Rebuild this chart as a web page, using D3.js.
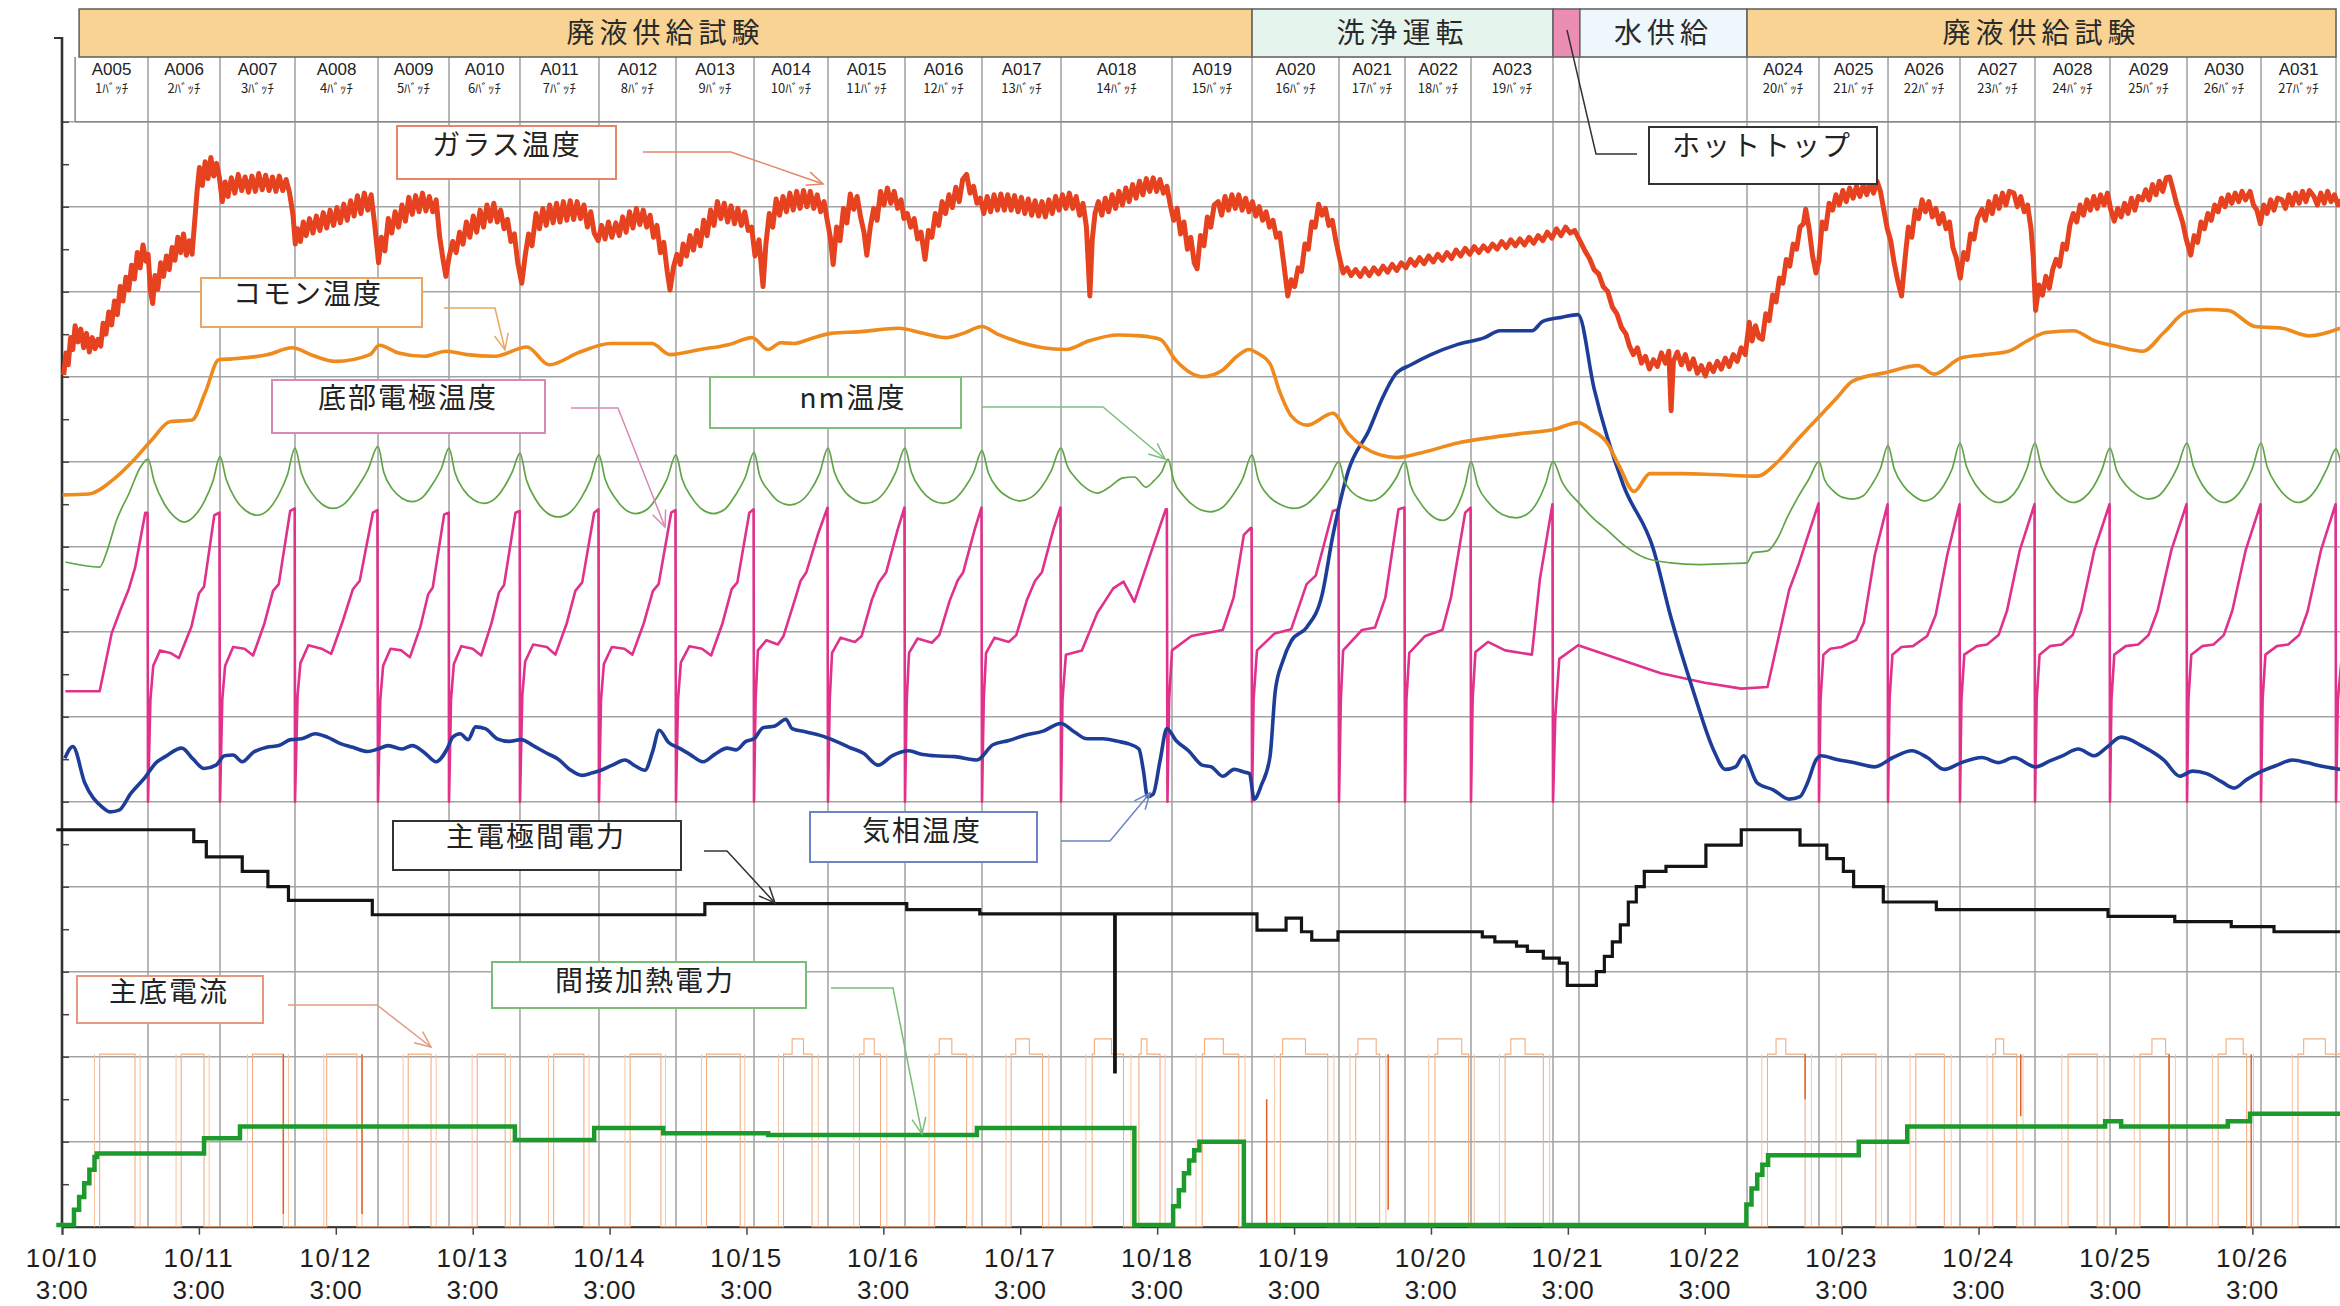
<!DOCTYPE html>
<html>
<head>
<meta charset="utf-8">
<script src="https://cdn.jsdelivr.net/npm/d3@7"></script>
<style>
html,body{margin:0;padding:0;background:#fff;overflow:hidden}
svg{display:block}
</style>
</head>
<body>
<svg id="chart" width="2340" height="1306"></svg>
<script>
// ---------- time axis (hours after 10/10 3:00) ----------
const dateLabels = ["10/10","10/11","10/12","10/13","10/14","10/15","10/16","10/17","10/18",
                    "10/19","10/20","10/21","10/22","10/23","10/24","10/25","10/26"];
const timeLabel = "3:00";

// ---------- operating phases (header band) ----------
const phaseLabels = ["廃液供給試験","洗浄運転","","水供給","廃液供給試験"];
const phaseEdges  = [3.0, 208.63, 261.4, 266.1, 295.41, 398.67];

// ---------- batch table ----------
const batchEdges = [2.3, 15.08, 27.7, 40.85, 55.4, 67.85, 80.29, 94.14, 107.64, 121.32, 134.29,
                    147.79, 161.29, 175.14, 194.6, 208.63, 223.88, 235.45, 247.02, 261.4, 265.95,
                    295.41, 308.03, 320.13, 332.75, 345.9, 359.05, 372.55, 385.52, 398.67];
const batchIds = ["A005","A006","A007","A008","A009","A010","A011","A012","A013","A014","A015",
                  "A016","A017","A018","A019","A020","A021","A022","A023","","",
                  "A024","A025","A026","A027","A028","A029","A030","A031"];
const batchNos = ["1","2","3","4","5","6","7","8","9","10","11","12","13","14","15","16","17","18","19","","",
                  "20","21","22","23","24","25","26","27"];

// ---------- series: [hour, value] ----------
const glassTemp = [
[0.3,100.2],[0.7,102.8],[1.1,101.4],[1.5,104.6],[1.9,103.2],[2.3,106],[2.8,104.1],[3.3,105.6],[3.8,103.4],[4.3,105.1],[4.8,102.9],[5.3,104.6],[5.8,103.3],[6.3,104.4],[6.8,103.6],[7.2,106.3],[7.7,105],[8.2,107.6],[8.7,106.1],[9.2,108.9],[9.7,107.3],[10.2,110.6],[10.7,108.9],[11.2,111.7],[11.7,110.2],[12.2,113.1],[12.7,111.5],[13.2,114.6],[13.7,112.8],[14.2,115.5],[14.7,113.6],[15.1,114.4],[15.5,110.2],[15.9,108.6],[16.3,111.9],[16.8,110.3],[17.3,113.4],[17.8,111.8],[18.3,114.2],[18.8,112.6],[19.3,115.2],[19.8,113.7],[20.3,116.4],[20.8,114.6],[21.3,116.8],[21.8,114.3],[22.3,116],[22.8,114.4],[23.3,118.6],[23.7,122],[24.1,124.6],[24.6,122.5],[25.1,125.3],[25.6,123.3],[26.1,125.8],[26.6,123.6],[27.1,125.1],[27.6,123.4],
[28.1,120.6],[28.6,122.9],[29.1,121.2],[29.7,123.4],[30.3,121.6],[30.9,123.8],[31.5,121.9],[32.1,123.5],[32.7,121.7],[33.3,123.6],[33.9,121.8],[34.5,123.9],[35.1,122],[35.7,123.7],[36.3,121.9],[36.9,123.5],[37.5,121.8],[38.1,123.6],[38.7,121.9],[39.3,123.2],[39.9,121.6],[40.5,119],[40.9,115.6],
[41.3,117.4],[41.8,115.9],[42.3,118.2],[42.8,116.6],[43.4,118.6],[44,116.9],[44.6,118.9],[45.2,117.2],[45.8,119.3],[46.4,117.5],[47,119.6],[47.6,117.8],[48.2,119.9],[48.8,118.1],[49.4,120.3],[50,118.4],[50.6,120.7],[51.2,118.9],[51.8,121.3],[52.4,119.2],[53,121.6],[53.6,119.6],[54.2,121.4],[54.8,118],[55.5,113.4],
[56,116.4],[56.6,114.8],[57.2,118.6],[57.8,116.9],[58.4,119.4],[59,117.6],[59.6,120.2],[60.2,118.3],[60.8,121.1],[61.4,119.1],[62,121.3],[62.6,119.4],[63.2,121.6],[63.8,119.5],[64.4,121.2],[65,119.4],[65.6,120.8],[66.2,116.5],[66.8,113.8],[67.3,111.8],
[67.9,114.2],[68.5,115.9],[69.1,114.6],[69.7,117],[70.3,115.6],[70.9,118.2],[71.5,116.4],[72.1,118.9],[72.7,117],[73.3,119.6],[73.9,117.6],[74.5,120.2],[75.1,118.3],[75.7,120.4],[76.3,118.2],[76.9,119.6],[77.5,117.4],[78.1,118.5],[78.7,115.9],[79.3,116.8],[79.9,113.4],[80.6,111],
[81.2,114.2],[81.8,116.8],[82.4,115.4],[83.1,119.2],[83.7,117.4],[84.3,119.8],[84.9,117.8],[85.5,120.2],[86.1,118.1],[86.7,120.4],[87.3,118.2],[87.9,120.6],[88.5,118.4],[89.1,120.7],[89.7,118.5],[90.3,120.6],[90.9,118.6],[91.5,120.2],[92.1,117.6],[92.7,119.4],[93.3,116.9],[94,116],
[94.6,117.8],[95.2,116.2],[95.8,118.2],[96.4,116.4],[97.1,118.1],[97.7,116.6],[98.3,118.8],[98.9,117],[99.5,119.4],[100.1,117.5],[100.7,119.8],[101.3,117.9],[101.9,119.6],[102.5,117.6],[103.1,119],[103.7,116.4],[104.3,117.8],[104.9,114.6],[105.5,115.8],[106.1,112.4],[106.6,110.2],
[107.2,112.9],[107.8,114.4],[108.4,113.2],[108.9,115.6],[109.5,114.2],[110.1,116.6],[110.7,114.9],[111.3,117.2],[111.9,115.4],[112.5,118.4],[113.1,116.6],[113.7,119.6],[114.3,117.8],[114.9,120.6],[115.5,118.6],[116.1,120.4],[116.7,118.2],[117.3,120.1],[117.9,118],[118.5,119.8],[119.1,117.8],[119.7,119.4],[120.3,117.2],[120.9,117.6],
[121.5,114.2],[122.2,116.1],[122.9,110.6],[123.4,115.6],[124,119.2],[124.6,117.6],[125.2,120.9],[125.8,119],[126.4,121.2],[127,119.4],[127.6,121.6],[128.2,119.6],[128.8,121.8],[129.4,119.8],[130,121.9],[130.6,120],[131.2,121.8],[131.8,119.8],[132.4,121.4],[133,119.4],[133.6,120.6],[134.1,118.6],
[134.7,116.4],[135.2,113.2],[135.8,117.6],[136.4,116],[137,119.8],[137.6,118.1],[138.2,121.5],[138.8,119.7],[139.4,121.2],[140,118.8],[140.6,117],[141.1,114.3],[141.7,117.6],[142.3,119.8],[142.9,118.4],[143.5,121.8],[144.1,120.2],[144.7,122.2],[145.3,120.4],[145.9,121.8],[146.5,119.8],[147.1,120.8],[147.6,118.6],
[148.2,119.2],[148.8,117.6],[149.4,118.6],[150,116.2],[150.6,117],[151.3,113.8],[151.9,117.2],[152.5,116.4],[153.1,119.2],[153.7,117.8],[154.3,120.6],[154.9,119.2],[155.5,121.4],[156.1,119.9],[156.7,122.3],[157.3,120.6],[157.9,123.2],[158.6,123.8],[159.2,121.6],[159.8,122.4],[160.4,120.4],[161,121],
[161.6,119.2],[162.2,121.2],[162.8,119.4],[163.4,121.4],[164,119.6],[164.6,121.5],[165.2,119.6],[165.8,121.4],[166.4,119.6],[167,121.3],[167.6,119.4],[168.2,121.1],[168.8,119.2],[169.4,120.9],[170,119],[170.6,120.7],[171.2,118.9],[171.8,120.6],[172.4,118.8],[173,120.8],[173.6,119.2],[174.2,121.2],[174.8,119.6],[175.4,121.4],
[176,119.8],[176.6,121.6],[177.2,119.8],[177.8,121.2],[178.4,119],[179,120.4],[179.6,117.6],[180.2,109.5],[180.6,116],[181.1,119.2],[181.7,120.6],[182.3,119],[182.9,121],[183.5,119.4],[184.1,121.4],[184.7,119.8],[185.3,121.8],[185.9,120.2],[186.5,122.2],[187.1,120.6],[187.7,122.6],[188.3,121],[188.9,123],[189.5,121.4],[190.1,123.3],[190.7,121.8],[191.3,123.4],[191.9,121.8],[192.5,123.2],[193.1,121.6],[193.7,122.4],[194.3,120.2],
[194.9,118.4],[195.5,119.8],[196.1,116.8],[196.7,118.2],[197.3,115],[197.9,116.4],[198.5,113.4],[199,112.7],[199.6,116.6],[200.2,115.4],[200.8,118.8],[201.4,117.6],[202,120.2],[202.7,120.6],[203.3,119],[203.9,121.2],[204.5,119.6],[205.1,121.4],[205.7,119.8],[206.3,121.4],[206.9,119.6],[207.5,121],[208.1,119.4],[208.7,120.6],
[209.3,118.9],[209.9,120],[210.5,118.4],[211.1,119.4],[211.7,117.6],[212.3,118.4],[212.9,116.4],[213.5,116.9],[214.1,113.8],[214.9,109.5],[215.5,111.4],[216.1,110.6],[216.7,112.8],[217.3,112.4],[217.9,115.6],[218.5,115],[219.1,118.2],[219.7,117.6],[220.3,120.3],[220.9,119],[221.5,119.8],[222.1,117.8],[222.7,118.4],[223.3,116.1],
[223.9,114.2],[224.6,112.2],[225.3,112.8],[226,111.9],[226.8,112.6],[227.6,111.8],[228.4,112.7],[229.2,111.9],[230,112.8],[230.8,112.1],[231.6,113],[232.4,112.3],[233.2,113.2],[234,112.5],[234.8,113.4],[235.6,112.8],[236.4,113.8],[237.2,113.1],[238,114],[238.8,113.3],[239.6,114.2],[240.4,113.5],[241.2,114.4],[242,113.7],[242.8,114.6],[243.6,113.9],[244.4,114.9],[245.2,114.2],[246,115.1],[246.8,114.4],[247.6,115.3],[248.4,114.6],[249.2,115.4],[250,114.8],[250.8,115.6],[251.6,115],[252.4,115.9],[253.2,115.2],[254,116.1],[254.8,115.4],[255.6,116.2],[256.4,115.5],[257.2,116.4],[258,115.7],[258.8,116.6],[259.6,116],[260.4,117],[261.2,116.3],[262,117.4],[262.8,116.6],[263.6,117.6],[264.4,116.9],[265.2,117.2],
[266.1,116],[267,114.8],[267.8,113.9],[268.6,112.6],[269.4,112.1],[270.2,110.6],[271,110],[271.8,108.2],[272.6,107.4],[273.4,105.8],[274.2,105],[274.8,103.6],[275.5,102.6],[276.2,103.4],[276.9,101.6],[277.6,102.4],[278.3,100.9],[279,102],[279.7,101.2],[280.4,102.8],[281.1,101.6],[281.7,103],[282.1,96],[282.5,101.8],[283.2,102.9],[283.9,101.4],[284.6,102.6],[285.3,100.9],[286,102.1],[286.7,100.4],[287.4,101.3],[288.1,100.1],[288.8,101.5],[289.5,100.6],[290.2,101.8],[290.9,100.9],[291.6,102.2],[292.3,101.2],[293,102.6],[293.7,101.8],[294.4,103.4],[295.1,102.6],[295.8,106.4],[296.3,104.2],[296.9,106],[297.5,104.6],[298.1,104.4],[298.7,107.4],[299.3,106.6],[299.9,109.6],[300.5,108.8],[301.1,111.6],[301.7,111],[302.3,113.8],[302.9,113],[303.5,115.6],[304.1,115],[304.7,117.6],[305.3,118],[305.7,119.7],[306.3,117.4],[306.9,114.2],[307.5,112.2],[308,113.6],
[308.6,118.2],[309.2,117.4],[309.8,120.4],[310.4,119.6],[311,121.4],[311.6,120.2],[312.2,121.9],[312.8,120.6],[313.4,122.2],[314,121],[314.6,122.4],[315.2,121.2],[315.8,122.6],[316.4,121.4],[317,122.8],[317.6,121.6],[318.2,123],[318.8,121.8],[319.4,119.6],[320,117.4],[320.6,116],
[321.2,113.4],[321.8,111.4],[322.5,109.5],[323.1,113.8],[323.7,117.6],[324.3,116.4],[324.9,119.6],[325.5,118.6],[326.1,120.8],[326.7,119.4],[327.3,120.6],[327.9,118.8],[328.5,119.8],[329.1,118],[329.7,119.2],[330.3,117.4],[330.9,118.2],[331.5,115.2],[332.1,114],[332.8,111.6],
[333.4,114.6],[334,113.8],[334.6,116.8],[335.2,116.2],[335.8,118.6],[336.6,119.7],[337.2,118.4],[337.8,120.6],[338.4,119.2],[339,121.2],[339.6,119.8],[340.2,121.6],[340.8,120.2],[341.4,121.8],[342.2,121.6],[342.8,120],[343.4,121.2],[344,119.4],[344.6,120.2],[345.2,117.4],[345.6,114],[346,107.8],
[346.6,110.8],[347.2,109.6],[347.8,111.8],[348.4,110.4],[349,112.6],[349.6,113.8],[350.2,113],[350.8,115.6],[351.4,115],[352,117.8],[352.6,119.2],[353.2,118.2],[353.8,120.2],[354.4,119],[355,120.8],[355.6,119.6],[356.2,121.2],[356.8,119.8],[357.4,121.4],[358,120.2],[358.6,121.6],[359.2,119.6],
[359.8,118.3],[360.4,119.8],[361,118.8],[361.6,120.4],[362.2,119.2],[362.8,121],[363.4,119.6],[364,121.2],[364.7,120.8],[365.3,122],[365.9,120.8],[366.5,122.6],[367.1,121.4],[367.7,123],[368.3,121.8],[368.9,123.4],[369.5,123.5],[370.1,122],[370.7,120.4],[371.3,119.2],[371.8,118.1],[372.4,116.2],[373.2,114.3],
[373.8,116.6],[374.4,115.8],[375,118.2],[375.6,117.4],[376.2,119.2],[376.8,118.4],[377.4,120.2],[378,119.4],[378.6,121],[379.2,120],[379.8,121.4],[380.4,120.4],[381,121.6],[381.6,120.6],[382.2,121.8],[382.8,120.8],[383.6,121.8],[384.2,120.2],[384.8,119.6],[385.4,118],
[386,120.2],[386.6,119.2],[387.2,120.8],[387.8,119.6],[388.4,121],[389.2,120.8],[389.8,119.8],[390.4,121.4],[391,120.2],[391.6,121.6],[392.2,120.4],[392.8,121.8],[393.4,120.6],[394,121.9],[394.8,121.2],[395.4,120.2],[396,121.6],[396.6,120.4],[397.2,121.8],[397.8,120.6],[398.4,121.4],[399,120.2],[399.6,120.8]
];

const commonTemp = [
[0.1,86.1],[4.7,86.2],[8.8,87.8],[12.6,90.2],[15.8,92.6],[18.9,94.7],[22.8,94.9],[25.1,98.1],[27.5,102],[29.8,102.1],[36.1,102.6],[40.3,103.4],[44,102.5],[47.9,101.8],[54,102.6],[55.6,103.7],[59,102.8],[63.5,102.4],[67.3,103],[71,102.6],[75.9,102.4],[81.5,103.5],[85.4,101.4],[90.8,102.9],[96.2,103.9],[103.4,103.9],[106.6,102.6],[111.9,103.2],[117,103.8],[121,104.6],[123.8,103.2],[126,104],[128.3,103.9],[131,104.4],[134.8,105.1],[140,105.3],[146.7,105.7],[151,105.1],[155,104.6],[158,105.1],[161.3,105.9],[164,105],[168.7,103.9],[172,103.4],[176,103.2],[180,104.2],[185.1,104.9],[189,104.8],[192.5,104.4],[195.3,101.9],[199.9,100],[203.5,100.8],[206,102.4],[208.1,103.2],[209.5,102.8],[211.8,101.5],[213.5,98.2],[215.5,95.4],[218.3,94.3],[222.8,95.7],[225.5,93.3],[228,91.8],[231.1,90.8],[233.9,90.5],[238,91],[244.7,92.2],[250,92.8],[255.6,93.3],[261.6,93.8],[265.8,94.6],[268,93.8],[270.9,92.2],[273,89.5],[275.6,86.5],[278.4,88.6],[284,88.6],[289.6,88.5],[297.2,88.3],[300.8,90],[304,92.4],[307.5,94.9],[311,97.4],[314,99.5],[319.8,100.5],[325.4,101.3],[328.2,100.3],[332.9,102.2],[337,102.6],[341.3,103],[344.5,104.2],[347.8,105.2],[352.6,105.4],[356.4,104.2],[360,103.6],[364.8,103],[368.5,105.2],[372.4,107.6],[376,107.9],[379.7,107.8],[384.5,105.9],[389.2,105.7],[394,104.8],[399.4,105.7]
];

const nozzleTemp = [
[0.6,78.2],[6.6,77.6],[7.9,79.5],[9.5,83],[11.7,86.2],[13.8,89.4],[15.08,90.3],
[16.2,87.6],[17.8,85.2],[19.6,83.6],[21.4,82.9],[23.2,83.6],[25,85.4],[26.5,87.8],[27.7,90.6],
[28.8,87.9],[30.4,85.6],[32.3,84.2],[34.2,83.7],[36.1,84.3],[37.9,86],[39.5,88.4],[40.85,91.6],
[42,88.6],[43.8,86.3],[45.6,85],[47.5,84.5],[49.6,85.1],[51.6,86.8],[53.6,89],[55.4,91.8],
[56.4,88.8],[57.9,86.8],[59.6,85.7],[61.4,85.3],[63.2,85.8],[64.9,87.3],[66.5,89.2],[67.85,91.6],
[68.9,88.7],[70.4,86.7],[72.2,85.5],[74,85.1],[75.8,85.6],[77.5,87],[79,88.9],[80.29,91],
[81.4,87.9],[83.1,85.5],[85,84],[87,83.5],[89,84],[90.9,85.6],[92.6,87.8],[94.14,90.8],
[95.2,88],[96.9,85.8],[98.7,84.4],[100.6,83.9],[102.6,84.4],[104.4,85.9],[106.1,88],[107.64,90.8],
[108.7,88],[110.4,85.8],[112.2,84.4],[114.2,83.9],[116.2,84.4],[118,86],[119.8,88.2],[121.32,91.1],
[122.3,88.4],[124,86.5],[125.7,85.3],[127.6,84.9],[129.4,85.3],[131.2,86.6],[132.8,88.6],[134.29,91.6],
[135.4,88.8],[137,86.7],[139,85.5],[140.9,85.1],[142.8,85.5],[144.6,86.8],[146.2,88.8],[147.79,91.6],
[148.9,88.8],[150.6,86.7],[152.5,85.5],[154.5,85.1],[156.3,85.5],[158.1,86.8],[159.8,88.7],[161.29,91.3],
[162.4,88.7],[164.1,86.8],[166,85.8],[168,85.4],[169.9,85.8],[171.7,87],[173.4,88.9],[175.14,91.6],
[176.3,89.4],[177.8,88],[179.7,86.8],[181.5,86.3],[183.6,87],[186,88.1],[188,88.2],[190,87],[191.5,87.8],[192.8,88.8],[193.9,90.3],
[194.9,87.8],[196.6,86],[198.9,84.6],[201.3,84.1],[203.4,84.6],[205.2,86],[207,88],[208.63,90.8],
[209.7,88],[211.5,86],[213.8,84.9],[216,84.5],[218.2,85],[220.2,86.3],[222.1,88],[223.88,90],
[224.8,87.8],[226.2,86.4],[227.8,85.7],[229.5,85.4],[231.1,85.8],[232.6,86.8],[234,88.2],[235.45,90],
[236.4,87.3],[238,85.3],[240,83.7],[242,83.1],[243.5,83.6],[244.8,85],[246,87.2],[247.02,90],
[248.2,87.2],[250.1,85.2],[252.5,83.8],[255,83.4],[257,83.9],[258.7,85.3],[260.1,87.4],[261.4,90],
[263,87.6],[266,85.1],[268.5,83.3],[271,81.9],[274,80.1],[277.5,78.7],[282,78.1],[287,77.9],[292,78],[295.4,78.1],[296.5,79.3],[299,79.5],[300.8,81],[302.5,83.5],[304.5,86],[306.3,88],[308.03,90],
[309,87.9],[310.5,86.6],[312.2,85.8],[314,85.6],[315.8,86],[317.3,87.3],[318.8,89.2],[320.13,91.9],
[321.2,89.2],[322.8,87.2],[324.6,86],[326.5,85.4],[328.3,85.9],[329.9,87.2],[331.4,89.2],[332.75,92.2],
[333.9,89.4],[335.6,87.2],[337.5,85.8],[339.5,85.2],[341.4,85.7],[343,87],[344.5,89.2],[345.9,92.2],
[347,89.4],[348.7,87.2],[350.6,85.8],[352.6,85.2],[354.4,85.7],[356.1,87],[357.6,89],[359.05,91.6],
[360.2,89],[361.9,87.2],[363.8,86.1],[365.8,85.6],[367.6,86],[369.3,87.4],[370.9,89.4],[372.55,92.2],
[373.7,89.4],[375.3,87.2],[377.1,85.8],[379,85.2],[380.8,85.7],[382.4,87],[384,89.2],[385.52,92.2],
[386.6,89.4],[388.3,87.2],[390.1,85.8],[392,85.2],[393.8,85.7],[395.4,87],[397.1,89.2],[398.67,91.5],
[399.6,89.6]
];

const bottomElectrodeTemp = [
[0.6,63],[6.6,63],[8.7,69.8],[10.2,72.5],[11.7,75],[12.8,77.5],[14.6,84],[15.0,84],[15.08,50],
[15.5,62],[16,66],[17.2,67.8],[19,67.5],[20.5,66.9],[22.7,70.6],[24,74.5],[24.9,75.3],[26.7,83.7],[27.6,84],[27.7,50],
[28.1,62],[28.6,66],[30,68.2],[32,68],[33.5,67.2],[35.5,71],[37,74.8],[38,75.6],[40,84.2],[40.8,84.5],[40.85,50],
[41.3,62.5],[41.8,66.3],[43.2,68.4],[45.5,68],[47.2,67.4],[49.2,71.2],[51,75],[52.2,76],[54.5,84],[55.3,84.3],[55.4,50],
[55.8,62],[56.3,66],[57.6,68],[59.5,67.8],[61,67],[62.8,70.5],[64.2,74.4],[65,75.2],[67,83.8],[67.8,84],[67.85,50],
[68.2,62],[68.7,66.2],[70,68.3],[72,68],[73.5,67.2],[75.3,71],[76.6,74.6],[77.5,75.5],[79.5,84],[80.25,84.2],[80.29,50],
[80.7,62.5],[81.2,66.5],[82.6,68.5],[85,68.2],[86.5,67.3],[88.5,71],[90,74.8],[91.2,75.8],[93.3,84],[94.05,84.4],[94.14,50],
[94.5,62],[95,66.2],[96.4,68.2],[98.6,68],[100,67.3],[102,71],[103.6,74.8],[104.6,75.6],[106.8,84],[107.55,84.3],[107.64,50],
[108,62],[108.5,66.4],[110,68.3],[112.2,68],[113.8,67.2],[115.8,71],[117.4,75],[118.4,75.8],[120.5,84],[121.25,84.4],[121.32,50],
[121.6,62],[122,67.8],[123.5,69],[125.5,68.5],[126.5,69.5],[128.5,73.8],[129.5,76],[130.5,77],[132.5,81.4],[134.2,84.6],[134.29,50],
[134.6,62],[135,67.5],[136.5,69.3],[139,68.8],[140.2,69.5],[142,73.8],[143.2,75.8],[144.5,77],[146.5,82],[147.7,84.6],[147.79,50],
[148.1,62],[148.5,67.5],[150,69.2],[152.5,68.7],[153.8,69.6],[155.6,73.6],[157,76],[158,77],[160,82],[161.2,84.6],[161.29,50],
[161.6,62],[162,67.5],[163.5,69.3],[166,68.8],[167.3,69.6],[169.2,73.8],[170.6,76],[171.8,77],[173.8,82],[175.05,84.6],[175.14,50],
[175.4,62],[176,67.3],[178.8,67.8],[181.5,72.2],[184.3,75.1],[186.1,75.9],[188,73.5],[190.7,78.9],[193.5,84.4],[193.7,84.4],[193.8,50],
[194.1,62],[194.6,67.8],[198,69.5],[203.5,70.2],[205.4,74],[207.2,81.4],[208.4,82.2],[208.55,82.2],[208.63,50],
[208.9,62],[209.5,67.8],[212.6,69.8],[215.5,70.3],[218.2,75.6],[219.8,76.6],[222.8,84.2],[223.8,84.4],[223.88,50],
[224.2,62],[224.6,67.8],[227.9,70.2],[230.2,70.5],[232,74],[234.3,84.4],[235.35,84.6],[235.45,50],
[235.7,62],[236.2,67.5],[239,69.5],[242,70.2],[243.5,74],[246,84],[246.95,84.6],[247.02,50],
[247.3,62],[247.8,67.6],[250,68.8],[253,67.8],[257.7,67.3],[259.1,76.2],[261.3,85],[261.4,50],
[261.8,60],[262.5,66.8],[265.8,68.4],[272,67],[280.3,65.1],[288,64],[294.4,63.3],[299,63.5],[302.8,74.9],[304.5,78],[307.95,85.1],[308.03,50],
[308.3,62],[308.8,67.3],[310,68],[312,68.2],[314.5,69],[315.9,71.1],[317.8,79],[320.05,85],[320.13,50],
[320.4,62],[320.9,67.3],[322.5,68.2],[324.5,68.3],[327,69.5],[328.5,72],[330.5,79],[332.67,85],[332.75,50],
[333,62],[333.5,67.3],[335.7,68.3],[337.5,68.5],[339.5,69.6],[341,72.5],[343.2,79.5],[345.82,85],[345.9,50],
[346.2,62],[346.7,67.3],[348.5,68.3],[350.6,68.5],[352.5,69.6],[354,72.4],[356.3,79.6],[358.97,85],[359.05,50],
[359.3,62],[359.8,67.3],[361.8,68.3],[364,68.5],[365.8,69.6],[367.4,72.5],[369.8,79.6],[372.47,85],[372.55,50],
[372.8,62],[373.3,67.3],[375.2,68.3],[377.2,68.5],[379,69.6],[380.5,72.5],[382.8,79.5],[385.44,85],[385.52,50],
[385.8,62],[386.3,67.3],[388.3,68.3],[390.3,68.5],[392.2,69.6],[393.7,72.4],[396,79.5],[398.6,85],[398.67,50],
[399,62],[399.6,66.5]
];

const gasTemp = [
[0.5,55.1],[1.9,56.5],[4,52.2],[7,49.4],[8.5,48.8],[10,49],[12.1,51],[14.6,52.9],[16.5,54.6],[18.1,55.3],[21,56.3],[23,55],[24.9,53.9],[27,54.3],[28.5,55.4],[30,55.5],[31.6,54.7],[33.5,55.8],[35.9,56.4],[38,56.6],[40.1,57.3],[42,57.4],[44.4,58],[46.5,57.6],[48.6,56.9],[51,56.4],[53.6,55.9],[55.4,56.2],[57.2,56.6],[59.5,56.2],[61.4,56.6],[63.5,55.8],[65.6,54.7],[67.5,56.2],[68.5,57.6],[69.8,58],[71.2,57.3],[72.5,58.8],[74.2,58.6],[76.3,57.4],[78.4,57.1],[80.5,57.3],[82.6,56.6],[85,55.7],[87,55],[89,53.8],[91.2,53.1],[93,53.4],[94.5,53.7],[96.5,54.3],[98.7,54.9],[100.5,54.2],[102.2,53.7],[103.5,55.8],[104.7,58.4],[106.3,57],[108.2,56.3],[110,55.6],[112.4,54.7],[114.5,55.6],[116.6,56.3],[118.2,56.1],[119.9,57.1],[121.3,57.4],[122.9,58.7],[125,58.9],[126.9,59.7],[128,58.6],[130.5,58.2],[132.9,57.8],[135.7,57.1],[138,56.4],[140.5,55.7],[143.1,54.3],[145.5,55.4],[148.5,56],[150.5,55.6],[153,55.4],[156.5,55.3],[160.4,54.9],[163.2,56.7],[166,57.2],[168.7,57.8],[172,58.3],[175.1,59.2],[177.5,58.2],[179.7,57.4],[182.5,57.4],[185.1,57.1],[187,56.8],[188.8,56.2],[189.6,53.6],[190.3,50.6],[191.3,50.9],[192.5,54.8],[193.7,58.6],[195.3,57.2],[197.5,56],[199.9,54.3],[201.5,54.1],[203.5,53],[205.5,53.8],[207.2,53.5],[208.2,53.3],
[209,50.3],[210.3,52],[211.8,55.4],[212.7,63],[214,66.5],[215.5,68.9],[218.2,70.5],[220.9,74.3],[222.8,81.3],[225.5,88.9],[229.2,93.8],[231.5,97.5],[233.8,100.3],[236.5,101.4],[240,102.6],[244.7,103.8],[249.4,104.6],[252.1,105.4],[257.7,105.4],[259.6,106.5],[263,107],[265.8,107.3],[268.6,98.6],[273.7,87.3],[279,79.7],[282.1,71.6],[286,63],[289.6,56],[291.6,53.8],[293.4,54.1],[294.8,55.4],[297.2,52.2],[300,51.4],[302.8,50.3],[304.7,50.6],[306,52.2],[307.5,54.9],[308.4,55.4],[311,55],[314.1,54.6],[317.8,54.1],[321,55.2],[324.3,56],[327,55.2],[330,53.8],[333,54.6],[336.6,55.2],[339.5,54.6],[342.2,55.2],[346,54.1],[348.5,54.8],[350.7,55.4],[353.5,56.2],[356.3,55.4],[358.5,56.4],[361,57.6],[364.8,56.5],[368.5,54.9],[371.3,53],[373.5,53.6],[376,53.3],[378.5,52.4],[380.8,51.6],[383,52.6],[385.4,53.5],[388,54.2],[391.1,54.9],[393.5,54.6],[396.7,54.1],[399.4,53.8]
];

// step series: value holds until the next change
const mainPower = [
[-1,46.7],[23.1,45.3],[25.3,43.5],[31.6,41.8],[36.1,40],[39.7,38.4],[54.4,36.7],[112.7,38],[148.1,37.3],[160.9,36.8],[184.55,18.2],[184.65,36.8],[209.5,34.9],[214.6,36.3],[217.3,34.7],[219.1,33.7],[223.7,34.7],[249,34.1],[251.2,33.5],[255,33],[256.9,32.4],[259.7,31.6],[262.5,31],[263.9,28.4],[269,30],[270.4,31.8],[271.8,33.5],[273.2,35.5],[274.6,38.2],[276,40],[277.4,41.8],[281.2,42.4],[288.2,44.9],[294.4,46.7],[304.7,44.9],[309.4,43.3],[312.3,41.8],[314.1,40],[319.3,38.2],[328.6,37.3],[358.7,36.5],[370.4,35.9],[380.3,35.3],[387.8,34.7],[400,34.7]
];

const heaterPower = [
[-1,0.2],[1.6,0.2],[2.1,2],[3,3.5],[3.9,5.1],[4.8,6.7],[5.7,8.2],[6.1,8.6],[24.9,10.4],[31.2,11.8],[79.4,10.2],[93.3,11.6],[105.4,11],[123.8,10.8],[160.4,11.6],[188,0.2],[194.8,2.4],[195.8,4.3],[196.7,6.3],[197.6,7.8],[198.5,9],[199.4,10],[207.2,0.2],[295.3,2.6],[296.2,4.5],[297.2,6.1],[298.1,7.3],[299.1,8.4],[315,10],[323.5,11.8],[358.2,12.4],[361,11.8],[379.7,12.4],[383.6,13.3],[400,13.3]
];

// bottom current: [on, off, peak start, peak end]
const currentPulses = [
[6.6,12.8],[20.9,24.9],[33.4,38.8],[46.4,51.7],[60.7,64.7],[72.8,77.7],[86.2,91.5],[99.6,105],[113,118.9],
[126.5,131.5,128,130],[139.8,143.5,140.6,142.4],[153,158.6,153.8,156],[166.4,171.9,167.2,169.6],[180.6,186.1,181,184],[188.8,192.5,189.2,190.2],[199.9,206.3,200.3,203.6],[213.6,221.9,214,218],[226.8,231,227.2,230.4],[240.7,246.6,241.2,245.4],[253,259.7,254,256.5],
[299,305.6,300.5,302.2],[312,318],[325,330],[338.5,342.7,339,340.4],[351.7,356.8],[364.3,369.4,366.4,368.8],[378,383,379.4,382.4],[392,400,393,396.8]
];
const currentSpikes = [5.7,13.7,20,25.8,32.5,39.7,45.9,52.6,59.8,65.6,71.9,78.6,85.3,92.4,98.7,105.8,112.1,119.7,125.6,132.6,138.8,144.6,152,159.7,165.5,173,179.5,187.4,193.4,198.8,207.4,212.6,223,225.8,232.1,239.6,247.6,252,260.8,298,306.7,311,319,324,331.2,337.5,343.8,350.6,358,363.3,370.5,377,384.2,391];
const currentDips = [[38.8,1.5,20.3],[52.6,1.5,20.3],[211.2,0,15],[232.5,2,20.3],[305.6,15,20.3],[343.4,13,20.3],[369.4,0,20.3],[383.8,0,20.3]];
const currentLevel = 20.3, currentPeak = 22.1;

// ---------- scales ----------
const W = 2340, H = 1306;
const x = d3.scaleLinear().domain([0, 400]).range([62, 62 + 400 * 5.704]);
const y = d3.scaleLinear().domain([0, 130]).range([1226.7, 121.7]);
const HEAD_TOP = 9, HEAD_BOT = 57, ROW_BOT = y(130);
const CJK = "'Noto Sans CJK JP','Noto Sans CJK SC',sans-serif";

const svg = d3.select("#chart");

// ---------- grid ----------
const grid = svg.append("g");
grid.selectAll("line.h").data(d3.range(0, 131, 10)).join("line")
  .attr("x1", x(0)).attr("x2", W).attr("y1", d => y(d)).attr("y2", d => y(d))
  .attr("stroke", "#a3a3a3").attr("stroke-width", 1.6);
grid.selectAll("line.v").data(batchEdges.slice(1)).join("line")
  .attr("x1", d => x(d)).attr("x2", d => x(d)).attr("y1", HEAD_BOT).attr("y2", y(0))
  .attr("stroke", "#a0a0a0").attr("stroke-width", 1.5);
grid.append("line").attr("x1", x(batchEdges[0])).attr("x2", x(batchEdges[0]))
  .attr("y1", HEAD_BOT).attr("y2", ROW_BOT).attr("stroke", "#888").attr("stroke-width", 1.5);

// ---------- header band ----------
const phaseFill = ["#f8d393", "#e5f5ee", "#ec8db3", "#eef7fb", "#f8d393"];
const head = svg.append("g");
head.selectAll("rect").data(phaseLabels).join("rect")
  .attr("x", (d, i) => x(phaseEdges[i])).attr("y", HEAD_TOP)
  .attr("width", (d, i) => x(phaseEdges[i + 1]) - x(phaseEdges[i]))
  .attr("height", HEAD_BOT - HEAD_TOP)
  .attr("fill", (d, i) => phaseFill[i]).attr("stroke", "#666").attr("stroke-width", 1.6);
head.selectAll("text").data(phaseLabels).join("text")
  .attr("x", (d, i) => (x(phaseEdges[i]) + x(phaseEdges[i + 1])) / 2)
  .attr("y", 43).attr("text-anchor", "middle")
  .attr("font-family", CJK).attr("font-size", 28).attr("letter-spacing", 5)
  .attr("fill", "#2a2a2a").text(d => d);

// batch row bottom rule
svg.append("line").attr("x1", x(batchEdges[0])).attr("x2", x(batchEdges[batchEdges.length - 1]))
  .attr("y1", ROW_BOT).attr("y2", ROW_BOT).attr("stroke", "#888").attr("stroke-width", 1.6);

const rows = svg.append("g");
rows.selectAll("text.id").data(batchIds).join("text")
  .attr("x", (d, i) => (x(batchEdges[i]) + x(batchEdges[i + 1])) / 2)
  .attr("y", 75).attr("text-anchor", "middle")
  .attr("font-family", "'Liberation Sans',Arial,sans-serif").attr("font-size", 17)
  .attr("fill", "#222").text(d => d);
rows.selectAll("text.no").data(batchNos).join("text")
  .attr("x", (d, i) => (x(batchEdges[i]) + x(batchEdges[i + 1])) / 2)
  .attr("y", 93).attr("text-anchor", "middle")
  .attr("font-family", CJK).attr("font-size", 13)
  .attr("fill", "#222").text(d => d ? d + "ﾊﾞｯﾁ" : "");

// ---------- axes ----------
const leftAxis = svg.append("g").attr("transform", `translate(${x(0)},0)`)
  .call(d3.axisRight(y).tickValues(d3.range(0, 131, 5)).tickSize(7).tickFormat(""));
leftAxis.select(".domain").remove();
leftAxis.selectAll(".tick line").attr("stroke", "#444").attr("stroke-width", 1.5);
svg.append("line").attr("x1", x(0)).attr("x2", x(0)).attr("y1", 37).attr("y2", y(0))
  .attr("stroke", "#333").attr("stroke-width", 2.6);
svg.append("line").attr("x1", x(0) - 8).attr("x2", x(0)).attr("y1", 38).attr("y2", 38)
  .attr("stroke", "#333").attr("stroke-width", 2);

const tickHours = dateLabels.map((d, i) => i * 24);
const bottomAxis = svg.append("g").attr("transform", `translate(0,${y(0)})`)
  .call(d3.axisBottom(x).tickValues(tickHours).tickSize(8).tickFormat(""));
bottomAxis.select(".domain").attr("stroke", "#333").attr("stroke-width", 2);
bottomAxis.selectAll(".tick line").attr("stroke", "#444").attr("stroke-width", 1.5);
const dl = svg.append("g").attr("font-family", "'Liberation Sans Narrow','Liberation Sans',Arial,sans-serif")
  .attr("font-size", 26).attr("fill", "#1e1e1e").attr("text-anchor", "middle");
dl.selectAll("text.d").data(dateLabels).join("text")
  .attr("x", (d, i) => x(tickHours[i])).attr("y", 1267).attr("letter-spacing", 1.5).text(d => d);
dl.selectAll("text.t").data(dateLabels).join("text")
  .attr("x", (d, i) => x(tickHours[i])).attr("y", 1299).attr("letter-spacing", 0.5).text(timeLabel);

// ---------- series ----------
const plot = svg.append("g");
const lin = d3.line().x(d => x(d[0])).y(d => y(d[1]));
const smooth = d3.line().x(d => x(d[0])).y(d => y(d[1])).curve(d3.curveMonotoneX);
const step = d3.line().x(d => x(d[0])).y(d => y(d[1])).curve(d3.curveStepAfter);

// bottom current pulse train
const pulsePts = [];
currentPulses.forEach(p => {
  pulsePts.push([p[0], 0], [p[0], currentLevel]);
  if (p.length > 2) pulsePts.push([p[2], currentPeak], [p[3], currentLevel]);
  pulsePts.push([p[1], 0]);
});
plot.selectAll("line.spk").data(currentSpikes).join("line")
  .attr("x1", d => x(d)).attr("x2", d => x(d)).attr("y1", y(0)).attr("y2", y(currentLevel))
  .attr("stroke", "#f8c4a2").attr("stroke-width", 1);
plot.append("path").attr("d", step(pulsePts)).attr("fill", "none")
  .attr("stroke", "#f4ad7e").attr("stroke-width", 1.1);
plot.selectAll("line.dip").data(currentDips).join("line")
  .attr("x1", d => x(d[0])).attr("x2", d => x(d[0])).attr("y1", d => y(d[1])).attr("y2", d => y(d[2]))
  .attr("stroke", "#e0602a").attr("stroke-width", 1.5);

plot.append("path").attr("d", step(heaterPower)).attr("fill", "none")
  .attr("stroke", "#1c9a2c").attr("stroke-width", 4.5);
plot.append("path").attr("d", step(mainPower)).attr("fill", "none")
  .attr("stroke", "#141414").attr("stroke-width", 3.2);
plot.append("path").attr("d", lin(bottomElectrodeTemp)).attr("fill", "none")
  .attr("stroke", "#e0318b").attr("stroke-width", 2.6).attr("stroke-linejoin", "round");
plot.append("path").attr("d", smooth(gasTemp)).attr("fill", "none")
  .attr("stroke", "#1e3d98").attr("stroke-width", 3.6).attr("stroke-linejoin", "round");
plot.append("path").attr("d", smooth(nozzleTemp)).attr("fill", "none")
  .attr("stroke", "#5fa546").attr("stroke-width", 1.7);
plot.append("path").attr("d", smooth(commonTemp)).attr("fill", "none")
  .attr("stroke", "#ef8a1d").attr("stroke-width", 3.6);
plot.append("path").attr("d", lin(glassTemp)).attr("fill", "none")
  .attr("stroke", "#e6421f").attr("stroke-width", 5).attr("stroke-linejoin", "round");

// ---------- callouts ----------
const callouts = [
  {t: "ガラス温度",   box: [397, 126, 219, 53], tx: 507, ty: 155, c: "#e3876a", pts: [[643,152],[731,152],[823,184]], arrow: true},
  {t: "コモン温度",   box: [201, 278, 221, 49], tx: 308, ty: 304, c: "#e9a763", pts: [[444,308],[495,308],[505,350]], arrow: true},
  {t: "底部電極温度", box: [272, 380, 273, 53], tx: 408, ty: 408, c: "#d98ab4", pts: [[571,408],[618,408],[665,527]], arrow: true},
  {t: "nm温度",       box: [710, 377, 251, 51], tx: 853, ty: 408, c: "#7dbf7d", pts: [[982,407],[1103,407],[1165,459]], arrow: true},
  {t: "気相温度",     box: [810, 812, 227, 50], tx: 922, ty: 841, c: "#6c84c4", pts: [[1061,841],[1110,841],[1150,793]], arrow: true},
  {t: "主電極間電力", box: [393, 821, 288, 49], tx: 536, ty: 847, c: "#333333", pts: [[704,851],[727,851],[775,903]], arrow: true},
  {t: "主底電流",     box: [77, 976, 186, 47],  tx: 169, ty: 1002, c: "#e49a80", pts: [[288,1005],[377,1005],[431,1047]], arrow: true},
  {t: "間接加熱電力", box: [492, 962, 314, 46], tx: 645, ty: 991, c: "#78bd78", pts: [[831,988],[893,988],[922,1134]], arrow: true},
  {t: "ホットトップ", box: [1649, 127, 228, 57], tx: 1762, ty: 156, c: "#333333", pts: [[1637,154],[1596,154],[1567,30]], arrow: false}
];
const defs = svg.append("defs");
callouts.forEach((d, i) => {
  defs.append("marker").attr("id", "ah" + i).attr("markerUnits", "userSpaceOnUse")
    .attr("markerWidth", 20).attr("markerHeight", 16).attr("refX", 17).attr("refY", 8)
    .attr("orient", "auto")
    .append("path").attr("d", "M1,1 L17,8 L1,15").attr("fill", "none")
    .attr("stroke", d.c).attr("stroke-width", 1.5);
});
const ann = svg.append("g");
callouts.forEach((d, i) => {
  ann.append("path").attr("d", d3.line()(d.pts)).attr("fill", "none")
    .attr("stroke", d.c).attr("stroke-width", 1.5)
    .attr("marker-end", d.arrow ? `url(#ah${i})` : null);
  ann.append("rect").attr("x", d.box[0]).attr("y", d.box[1]).attr("width", d.box[2]).attr("height", d.box[3])
    .attr("fill", "#fff").attr("stroke", d.c).attr("stroke-width", 2);
  ann.append("text").attr("x", d.tx).attr("y", d.ty).attr("text-anchor", "middle")
    .attr("font-family", CJK).attr("font-size", 28).attr("letter-spacing", 2)
    .attr("fill", "#222").text(d.t);
});
</script>
</body>
</html>
